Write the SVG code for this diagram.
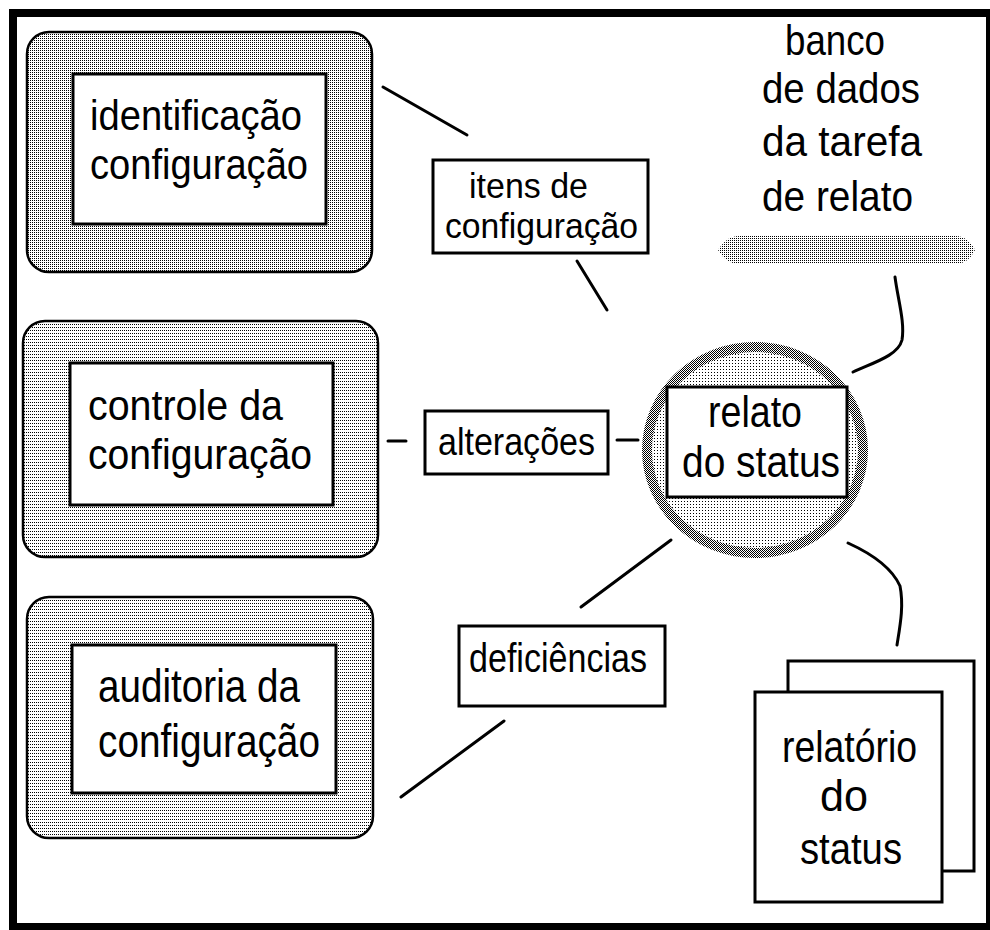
<svg xmlns="http://www.w3.org/2000/svg" width="990" height="930" viewBox="0 0 990 930">
<style>
.t{font-family:"Liberation Sans",Arial,sans-serif;fill:#000;}
.l{fill:none;stroke:#000;stroke-width:3;stroke-linecap:round;}
.ib{fill:#fff;stroke:#000;stroke-width:3;}
.ob{stroke:#000;stroke-width:2.5;}
</style>
<defs>
<pattern id="p50" width="2" height="2" patternUnits="userSpaceOnUse"><rect width="2" height="2" fill="#fff"/><rect width="1" height="1" fill="#000"/><rect x="1" y="1" width="1" height="1" fill="#000"/></pattern>
<pattern id="p25" width="2" height="2" patternUnits="userSpaceOnUse"><rect width="2" height="2" fill="#fff"/><rect width="1" height="1" fill="#000"/></pattern>
<pattern id="p17" width="2" height="3" patternUnits="userSpaceOnUse"><rect width="2" height="3" fill="#fff"/><rect width="1" height="1" fill="#000"/></pattern>
<pattern id="p11" width="3" height="3" patternUnits="userSpaceOnUse"><rect width="3" height="3" fill="#fff"/><rect width="1" height="1" fill="#000"/></pattern>
</defs>
<rect x="0" y="0" width="990" height="930" fill="#fff"/>
<g id="frame" fill="#000">
<rect x="9" y="9" width="981" height="8"/>
<rect x="9" y="9" width="8" height="921"/>
<rect x="986" y="9" width="4" height="921"/>
<rect x="9" y="923" width="981" height="7"/>
</g>
<g id="connectors">
<line class="l" x1="383" y1="87" x2="467" y2="135"/>
<line class="l" x1="577" y1="261" x2="607" y2="310"/>
<line class="l" x1="388" y1="441" x2="406" y2="441"/>
<line class="l" x1="617" y1="440" x2="638" y2="440"/>
<line class="l" x1="581" y1="607" x2="671" y2="540"/>
<line class="l" x1="504" y1="721" x2="401" y2="797"/>
<path class="l" d="M895,277 C898,300 905,322 902,340 C898,356 872,363 853,372"/>
<path class="l" d="M848,543 C870,553 892,568 900,586 C904,606 900,626 897,645"/>
</g>
<g id="identificacao">
<rect class="ob" x="27" y="32" width="345" height="240" rx="22" fill="url(#p25)"/>
<rect class="ib" x="73" y="74" width="253" height="150"/>
<text class="t" font-size="43" x="90" y="130" textLength="212" lengthAdjust="spacingAndGlyphs">identificação</text>
<text class="t" font-size="43" x="90" y="179" textLength="218" lengthAdjust="spacingAndGlyphs">configuração</text>
</g>
<g id="controle">
<rect class="ob" x="23" y="321" width="355" height="236" rx="22" fill="url(#p17)"/>
<rect class="ib" x="70" y="363" width="263" height="142"/>
<text class="t" font-size="43" x="88" y="420" textLength="195" lengthAdjust="spacingAndGlyphs">controle da</text>
<text class="t" font-size="43" x="88" y="469" textLength="224" lengthAdjust="spacingAndGlyphs">configuração</text>
</g>
<g id="auditoria">
<rect class="ob" x="27" y="597" width="346" height="241" rx="22" fill="url(#p17)"/>
<rect class="ib" x="72" y="645" width="264" height="148"/>
<text class="t" font-size="46" x="98" y="702" textLength="202" lengthAdjust="spacingAndGlyphs">auditoria da</text>
<text class="t" font-size="46" x="98" y="757" textLength="222" lengthAdjust="spacingAndGlyphs">configuração</text>
</g>
<g id="itens">
<rect class="ib" x="433" y="160" width="215" height="93"/>
<text class="t" font-size="35" x="469" y="198" textLength="119" lengthAdjust="spacingAndGlyphs">itens de</text>
<text class="t" font-size="35" x="445" y="238" textLength="193" lengthAdjust="spacingAndGlyphs">configuração</text>
</g>
<g id="alteracoes">
<rect class="ib" x="425" y="411" width="183" height="63"/>
<text class="t" font-size="38" x="438" y="455" textLength="157" lengthAdjust="spacingAndGlyphs">alterações</text>
</g>
<g id="deficiencias">
<rect class="ib" x="459" y="626" width="206" height="80"/>
<text class="t" font-size="40" x="469" y="672" textLength="178" lengthAdjust="spacingAndGlyphs">deficiências</text>
</g>
<g id="banco">
<text class="t" font-size="42" x="785" y="55" textLength="100" lengthAdjust="spacingAndGlyphs">banco</text>
<text class="t" font-size="42" x="762" y="103" textLength="158" lengthAdjust="spacingAndGlyphs">de dados</text>
<text class="t" font-size="42" x="762" y="156" textLength="160" lengthAdjust="spacingAndGlyphs">da tarefa</text>
<text class="t" font-size="42" x="762" y="211" textLength="151" lengthAdjust="spacingAndGlyphs">de relato</text>
<path d="M718,250 C722,244 728,236 740,236 L955,236 C966,236 972,244 975,250 C972,256 966,264 955,264 L740,264 C728,264 722,256 718,250 Z" fill="url(#p25)"/>
</g>
<g id="relato">
<ellipse cx="755" cy="450" rx="113" ry="108" fill="url(#p50)"/>
<ellipse cx="755" cy="450" rx="103" ry="98" fill="url(#p11)"/>
<rect class="ib" x="667" y="387" width="180" height="110"/>
<text class="t" font-size="44" x="708" y="427" textLength="94" lengthAdjust="spacingAndGlyphs">relato</text>
<text class="t" font-size="44" x="682" y="477" textLength="158" lengthAdjust="spacingAndGlyphs">do status</text>
</g>
<g id="relatorio">
<rect class="ib" x="788" y="661" width="186" height="210"/>
<rect class="ib" x="755" y="692" width="187" height="210"/>
<text class="t" font-size="44" x="782" y="762" textLength="135" lengthAdjust="spacingAndGlyphs">relatório</text>
<text class="t" font-size="44" x="820" y="811" textLength="48" lengthAdjust="spacingAndGlyphs">do</text>
<text class="t" font-size="44" x="800" y="864" textLength="102" lengthAdjust="spacingAndGlyphs">status</text>
</g>
</svg>
